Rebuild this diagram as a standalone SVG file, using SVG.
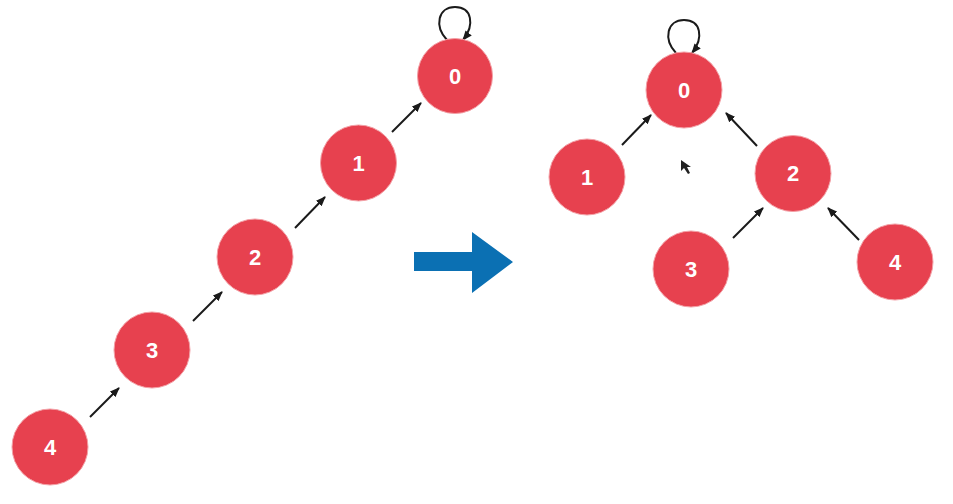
<svg xmlns="http://www.w3.org/2000/svg" width="953" height="504" viewBox="0 0 953 504">
<style>
.n circle{fill:#e7414f;stroke:#f3a0a6;stroke-width:1}
.n text{fill:#fff;font-family:"Liberation Sans",Arial,sans-serif;font-weight:bold;font-size:22px;text-anchor:middle;dominant-baseline:central}
.e{stroke:#1a1a1a;stroke-width:2;fill:none;marker-end:url(#ah)}
</style>
<defs>
<marker id="ah" markerWidth="10" markerHeight="8" refX="9" refY="4" orient="auto" markerUnits="userSpaceOnUse">
<path d="M0,0 L10,4 L0,8 Z" fill="#1a1a1a"/>
</marker>
</defs>
<rect width="953" height="504" fill="#fff"/>
<g id="connectors">
<line class="e" x1="90" y1="417" x2="119" y2="388"/>
<line class="e" x1="193" y1="321" x2="222" y2="292"/>
<line class="e" x1="295" y1="228" x2="325" y2="197"/>
<line class="e" x1="392" y1="132" x2="421" y2="103"/>
<path class="e" d="M447,40 C434,26 438,7 455,7 C472,7 475,25 463,40"/>
<line class="e" x1="622" y1="145" x2="651" y2="115"/>
<line class="e" x1="757" y1="146" x2="726" y2="113"/>
<line class="e" x1="733" y1="238" x2="763" y2="208"/>
<line class="e" x1="859" y1="240" x2="828" y2="208"/>
<path class="e" d="M676,53 C663,39 667,20 684,20 C701,20 704,38 692,53"/>
</g>
<g id="left-0" class="n"><circle cx="455" cy="76" r="37.5"/><text x="455" y="76">0</text></g>
<g id="left-1" class="n"><circle cx="358.5" cy="163" r="38"/><text x="358.5" y="163">1</text></g>
<g id="left-2" class="n"><circle cx="255" cy="257" r="38"/><text x="255" y="257">2</text></g>
<g id="left-3" class="n"><circle cx="152" cy="350" r="38"/><text x="152" y="350">3</text></g>
<g id="left-4" class="n"><circle cx="50" cy="447" r="38"/><text x="50" y="447">4</text></g>
<g id="right-0" class="n"><circle cx="684" cy="90" r="38"/><text x="684" y="90">0</text></g>
<g id="right-1" class="n"><circle cx="587" cy="177" r="38"/><text x="587" y="177">1</text></g>
<g id="right-2" class="n"><circle cx="793" cy="173.5" r="38"/><text x="793" y="173.5">2</text></g>
<g id="right-3" class="n"><circle cx="691" cy="269" r="38"/><text x="691" y="269">3</text></g>
<g id="right-4" class="n"><circle cx="895" cy="262" r="38"/><text x="895" y="262">4</text></g>
<g id="transform-arrow">
<polygon points="414,252 472,252 472,232 513,262 472,293 472,271 414,271" fill="#0b70b3"/>
</g>
<g id="cursor">
<polygon points="681,160 681,171 684,168 688,174 690,173 687,167 691,167" fill="#222"/>
</g>
</svg>
